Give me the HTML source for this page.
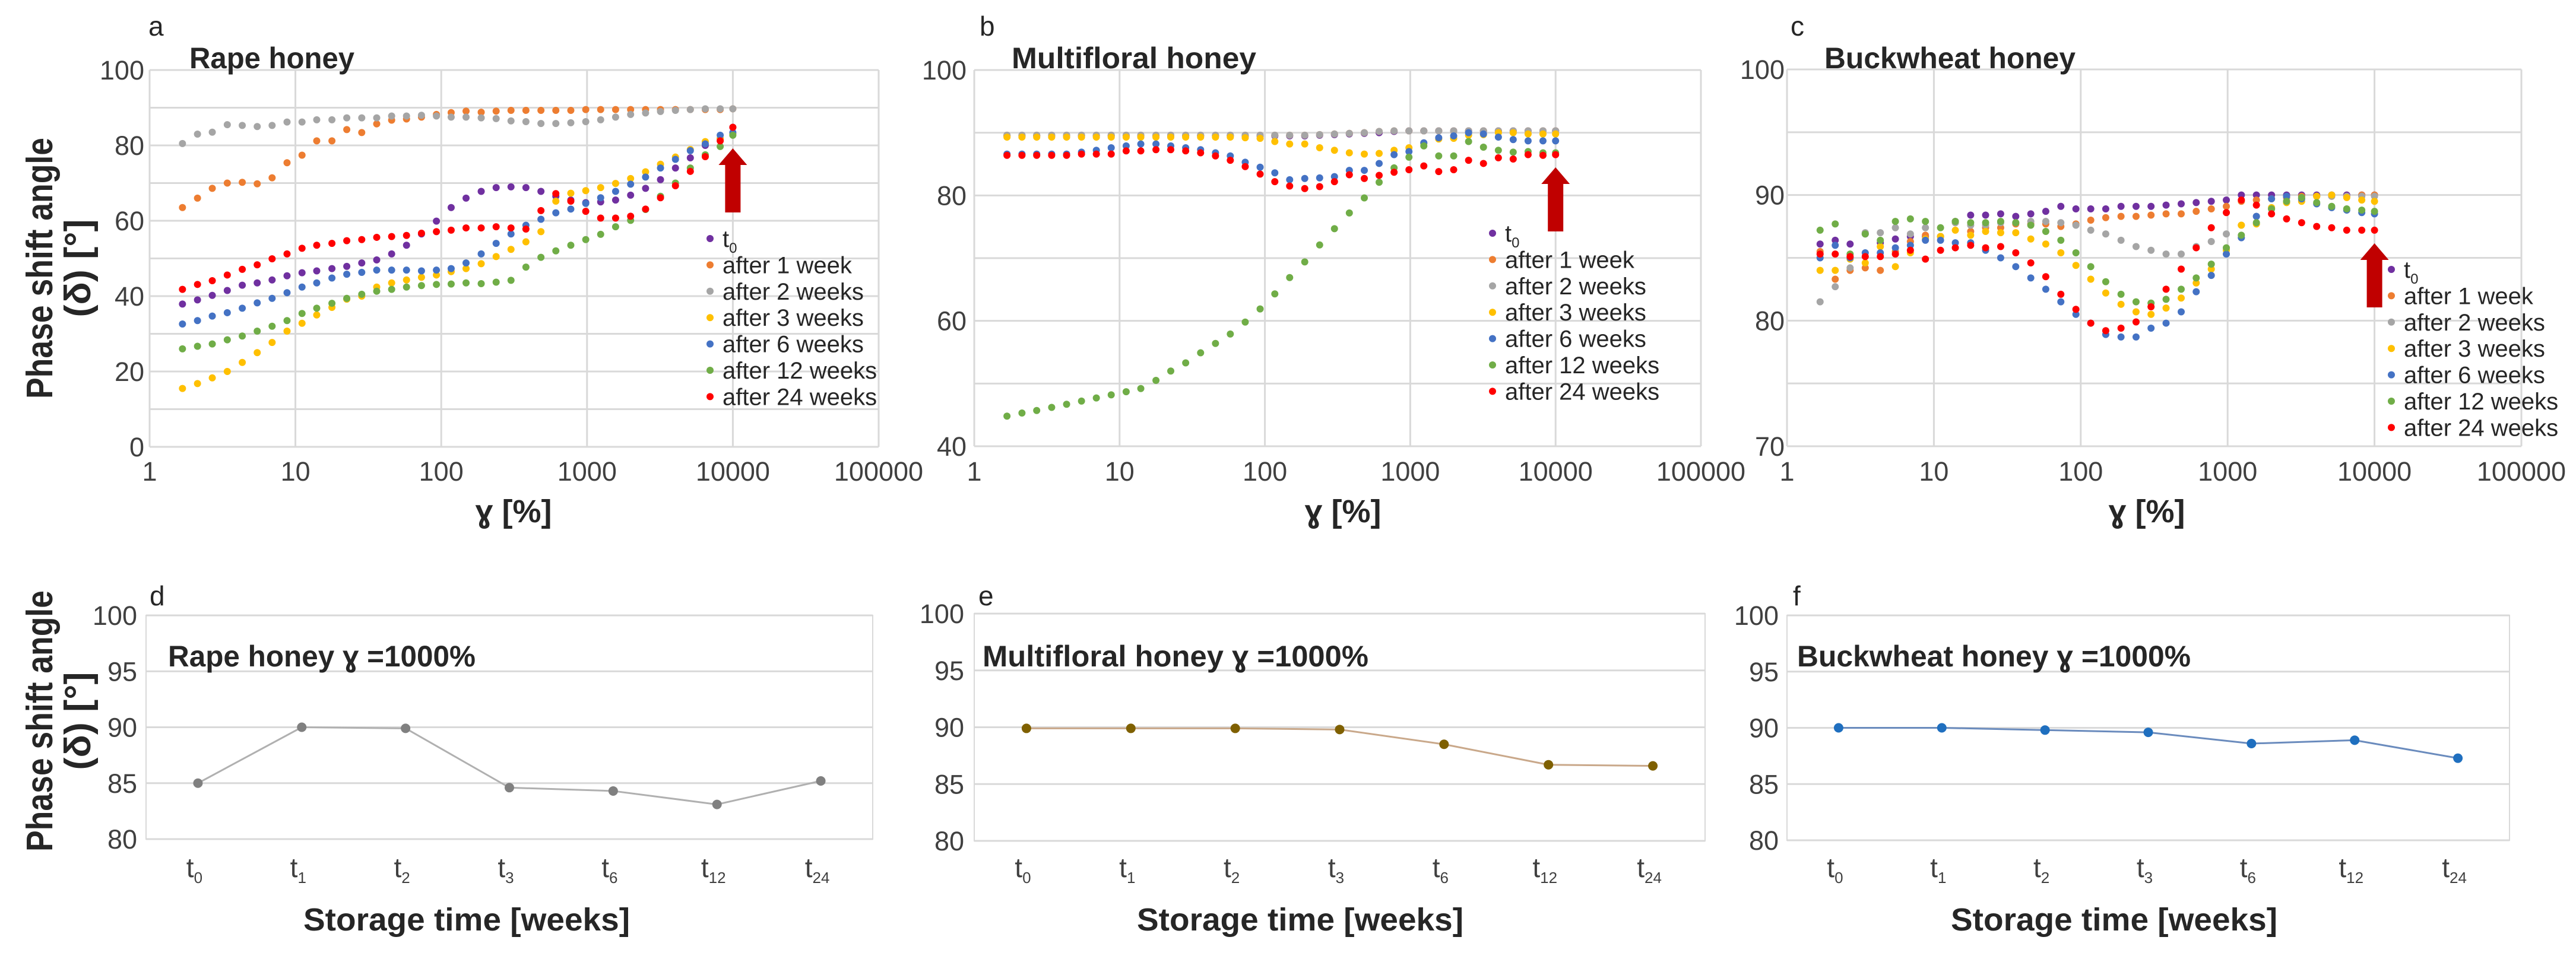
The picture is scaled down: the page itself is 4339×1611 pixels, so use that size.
<!DOCTYPE html>
<html><head><meta charset="utf-8"><title>Phase shift angle of honeys</title>
<style>
html,body{margin:0;padding:0;background:#fff;}
svg{display:block;font-family:"Liberation Sans",sans-serif;}
</style></head>
<body>
<svg id="fig" xmlns="http://www.w3.org/2000/svg" width="4339" height="1611" viewBox="0 0 4339 1611">
<rect x="0" y="0" width="4339" height="1611" fill="#ffffff"/>
</svg>
<script>
// ---------- data ----------
const gammaPts = [1.68,2.13,2.69,3.41,4.32,5.47,6.92,8.76,11.1,14.0,17.8,22.5,28.5,36.1,45.7,57.8,73.2,92.7,117,148,188,238,301,381,483,611,774,980,1240,1570,1990,2520,3190,4040,5110,6470,8190,10000];
const seriesNames = ["t0","after 1 week","after 2 weeks","after 3 weeks","after 6 weeks","after 12 weeks","after 24 weeks"];
const xTickLabels = ["1","10","100","1000","10000","100000"];

// Panel a: Rape honey
const rapeT0  = [37.9,39,40.2,41.5,42.9,43.5,44.3,45.4,46.2,46.7,47.3,47.9,48.8,49.6,51.2,53.5,56.5,59.9,63.5,66,67.8,68.8,69,68.8,67.8,66.5,65.5,64.8,65,65.5,66.8,68.6,70.9,74,76.7,80,81.8,84.8];
const rapeW1  = [63.5,66,68.6,70,70.2,69.8,71.4,75.4,77.4,81.2,81.2,84.2,83.4,85.7,86.7,87,87.5,88.2,88.7,89.1,88.8,89.1,89.3,89.3,89.3,89.3,89.3,89.5,89.5,89.5,89.5,89.5,89.5,89.5,89.5,89.5,89.5,89.7];
const rapeW2  = [80.5,83,83.5,85.5,85.3,85,85.3,86.2,86.2,86.8,86.8,87.3,87.3,87.3,87.8,87.8,88,87.8,87.5,87.5,87.3,87.1,86.5,86.3,85.8,85.8,86,86.3,86.8,87.5,88.2,88.6,89,89.3,89.5,89.7,89.7,89.7];
const rapeW3  = [15.5,16.8,18.3,20,22.4,25,27.7,30.7,32.8,35,37,39.2,40,42.4,43.5,44.3,45,45.6,46.5,47.3,48.6,50.5,52.4,54.4,57.1,65.2,67.3,68,68.8,69.9,71.2,73,75,76.9,78.9,81,81.8,83.1];
const rapeW6  = [32.6,33.5,34.7,35.6,36.8,38.2,39.4,40.9,42.4,43.5,44.8,45.8,46.3,46.9,46.9,46.9,46.7,46.9,47.3,48.8,51.2,54,56.5,58.8,60.4,62.1,63.1,64.6,66.1,67.8,69.7,71.6,74,76.3,78.6,80.4,82.7,83.4];
const rapeW12 = [26,26.7,27.3,28.4,29.4,30.7,32,33.5,35.4,36.8,38.1,39.4,40.5,41.3,41.8,42.4,42.8,43.1,43.2,43.5,43.3,43.7,44.2,47.7,50.3,52,53.5,55,56.4,58.4,60.1,63,66.5,70,74,77.5,79.7,82.7];
const rapeW24 = [41.8,43.1,44.1,45.6,47.1,48.3,49.9,51.2,52.7,53.5,54,54.7,55,55.6,55.8,56.1,56.7,57.1,57.5,58.1,58.1,58.4,58.1,57.8,62.7,67.2,65.2,62.5,60.7,60.7,61.2,63.1,66.1,69.3,73.1,77,81.2,84.8];

// Panel b: Multifloral honey
const multiT0  = [89.5,89.5,89.5,89.5,89.5,89.5,89.5,89.5,89.5,89.5,89.5,89.5,89.5,89.5,89.5,89.5,89.5,89.5,89.5,89.5,89.5,89.6,89.7,89.8,89.9,90,90.2,90.3,90.3,90.3,90.3,90.3,90.3,90.3,90.3,90.3,90.3,90.3];
const multiW1  = [89.6,89.6,89.6,89.6,89.6,89.6,89.6,89.6,89.6,89.6,89.6,89.6,89.6,89.6,89.6,89.6,89.6,89.6,89.6,89.6,89.6,89.7,89.8,89.9,90,90.2,90.3,90.3,90.3,90.3,90.3,90.3,90.3,90.3,90.3,90.3,90.3,90.3];
const multiW2  = [89.6,89.6,89.6,89.6,89.6,89.6,89.6,89.6,89.6,89.6,89.6,89.6,89.6,89.6,89.6,89.6,89.6,89.6,89.6,89.6,89.6,89.7,89.8,89.9,90,90.2,90.3,90.3,90.3,90.3,90.3,90.3,90.3,90.3,90.3,90.3,90.3,90.3];
const multiW3  = [89.3,89.3,89.3,89.3,89.3,89.3,89.3,89.3,89.3,89.3,89.3,89.3,89.3,89.3,89.3,89.3,89.2,89.1,88.6,88.2,88.2,87.6,87.2,86.8,86.6,86.7,87.2,87.6,88.3,89,89.1,89.6,89.7,90,90,89.8,89.8,89.8];
const multiW6  = [86.6,86.6,86.6,86.6,86.6,86.9,87.2,87.6,87.9,88.2,88.2,87.9,87.6,87.3,86.8,86.3,85.3,84.5,83.6,82.5,82.7,82.8,83,84,84,85.1,86.5,87,88.4,89.2,89.5,90,89.8,89.3,88.9,88.7,88.7,88.7];
const multiW12 = [44.8,45.3,45.7,46.2,46.7,47.2,47.7,48.2,48.7,49.2,50.5,52,53.3,54.9,56.4,57.9,59.8,61.9,64.3,66.9,69.4,72.1,74.7,77.2,79.6,82.1,84.4,86.1,87.9,86.3,86.3,88.6,87.7,87.2,86.9,87,86.8,86.8];
const multiW24 = [86.4,86.4,86.4,86.4,86.4,86.6,86.6,86.6,87.1,87.1,87.3,87.3,87.1,86.8,86.3,85.6,84.6,83.4,82.2,81.5,81.1,81.4,82.2,83.3,82.7,83.2,83.7,84.1,84.7,83.8,84.1,85.6,85.1,86,85.8,86.5,86.4,86.5];

// Panel c: Buckwheat honey
const buckT0  = [86.1,86.4,86.1,86.9,86.2,86.5,86.7,86.7,86.7,87.9,88.4,88.4,88.5,88.3,88.5,88.7,89.1,88.9,88.9,88.9,89.1,89.1,89.1,89.2,89.3,89.4,89.5,89.6,90,90,90,90,90,90,90,90,90,90];
const buckW1  = [85.5,83.3,84,84.2,84,85.5,86.3,86.8,86.7,87.8,87.1,87.4,87.4,87.7,87.7,87.7,87.5,87.7,88,88.2,88.3,88.3,88.4,88.5,88.5,88.7,88.9,89.1,89.5,89.6,89.7,89.8,89.9,89.9,89.9,89.9,90,90];
const buckW2  = [81.5,82.7,84.2,87,87,87.4,86.9,87.4,86.7,87.8,87.6,87.6,87.8,87.8,87.9,87.9,87.8,87.6,87.2,86.9,86.4,85.9,85.6,85.3,85.3,85.9,86.3,86.9,87.6,88.3,88.9,89.5,89.7,89.9,89.9,89.9,89.9,89.9];
const buckW3  = [84,84,84.9,84.6,85.9,84.3,85.4,86.5,86.7,87.2,86.8,87.1,87,87,86.5,86.1,85.4,84.4,83.3,82.2,81.3,80.7,80.5,81,81.8,83,84.1,85.6,87.6,87.7,89,89.4,89.5,89.9,90,89.8,89.6,89.5];
const buckW6  = [85,86,85,85.4,85.4,85.8,86,86.4,86.4,86.2,86.2,85.6,85,84.3,83.4,82.5,81.5,80.5,79.8,78.9,78.7,78.7,79.4,79.8,80.7,82.3,83.6,85.3,86.6,88.3,89.7,89.9,89.7,89.3,89,88.8,88.6,88.5];
const buckW12 = [87.2,87.7,85.3,86.9,86.4,87.9,88.1,87.9,87.4,87.9,87.8,87.8,87.9,87.8,87.6,87.1,86.4,85.4,84.3,83.1,82.1,81.5,81.4,81.7,82.5,83.4,84.5,85.8,86.8,87.8,88.9,89.5,89.8,89.4,89.1,88.9,88.8,88.7];
const buckW24 = [85.3,85.3,85.1,85.1,85.1,85.3,85.6,84.9,85.6,85.8,86,85.8,85.9,85.4,84.6,83.5,82.1,80.9,79.8,79.2,79.4,79.9,81.1,82.5,84.1,85.8,87.4,88.6,89.6,89.2,88.5,88.1,87.8,87.5,87.4,87.2,87.2,87.2];

// Bottom panels (γ = 1000%)
const storageCats = ["0","1","2","3","6","12","24"];
const rapeAt1000  = [85,90,89.9,84.6,84.3,83.1,85.2];
const multiAt1000 = [89.9,89.9,89.9,89.8,88.5,86.7,86.6];
const buckAt1000  = [90,90,89.8,89.6,88.6,88.9,87.3];
const bottomTicks = [80,85,90,95,100];

// ---------- drawing ----------
const NS = "http://www.w3.org/2000/svg";
const svg = document.getElementById("fig");
const colors = ["#7030a0","#ed7d31","#a5a5a5","#ffc000","#4472c4","#70ad47","#ff0000"];
function mk(tag, attrs, parent){
  const el = document.createElementNS(NS, tag);
  for (const k in attrs) el.setAttribute(k, attrs[k]);
  (parent || svg).appendChild(el);
  return el;
}
function txt(str, attrs, parent){
  const el = mk("text", attrs, parent);
  el.textContent = str;
  return el;
}

function yAxisTitle(cx, cy, parent){
  const g = mk("g", {}, parent);
  
  
  const t1 = txt("Phase shift angle", {x:0, y:0, transform:`translate(${cx},${cy}) rotate(-90)`, "text-anchor":"middle", "font-size":62, "font-weight":"bold", fill:"#262626", textLength:440, lengthAdjust:"spacingAndGlyphs"}, g);
  
  
  const t2 = txt("(δ)  [°]", {x:0, y:0, transform:`translate(${cx+64},${cy}) rotate(-90)`, "text-anchor":"middle", "font-size":62, "font-weight":"bold", fill:"#262626", textLength:165, lengthAdjust:"spacingAndGlyphs"}, g);
  
  
}

function scatterPanel(p){
  const g = mk("g", {});
  
  
  const dec = (p.x1 - p.x0) / 5;
  const xs = v => p.x0 + Math.log10(v) * dec;
  const ys = v => p.yBot - (v - p.ymin) / (p.ymax - p.ymin) * (p.yBot - p.yTop);
  // horizontal grid
  for (let v = p.ymin; v <= p.ymax + 0.001; v += p.gstep){
    const l = mk("line", {x1:p.x0, x2:p.x1, y1:ys(v), y2:ys(v), stroke:"#d9d9d9", "stroke-width":3}, g);
    
    
  }
  for (let v = p.ymin; v <= p.ymax + 0.001; v += p.lstep){
    const t = txt(String(v), {x:p.yLabX, y:ys(v)+16, "text-anchor":"end", "font-size":45, fill:"#404040"}, g);
    
    
  }
  // vertical grid + labels
  xTickLabels.forEach((lab, i) => {
    const x = xs(Math.pow(10, i));
    const l = mk("line", {x1:x, x2:x, y1:p.yTop, y2:p.yBot, stroke:"#d9d9d9", "stroke-width":3}, g);
    
    
    const t = txt(lab, {x:x, y:810, "text-anchor":"middle", "font-size":45, fill:"#404040"}, g);
    
    
  });
  // panel letter and title
  const let_ = txt(p.letter, {x:p.letterX, y:60, "font-size":46, fill:"#262626"}, g);
  
  
  const tt = txt(p.title, {x:p.titleX, y:115, "font-size":50, "font-weight":"bold", fill:"#262626", textLength:p.titleW, lengthAdjust:"spacingAndGlyphs"}, g);
  
  
  const xt = txt("ɣ [%]", {x:p.xTitleX, y:880, "text-anchor":"middle", "font-size":54, "font-weight":"bold", fill:"#262626"}, g);
  
  
  // series
  p.series.forEach((arr, si) => {
    const sg = mk("g", {fill:colors[si]}, g);
    
    
    arr.forEach((v, i) => {
      const c = mk("circle", {cx:xs(gammaPts[i]), cy:ys(v), r:6}, sg);
      
      
    });
  });
  // arrow
  const ax = xs(10000);
  const ar = mk("polygon", {points:`${ax},${p.arrowTip} ${ax+24},${p.arrowTip+28} ${ax+13},${p.arrowTip+28} ${ax+13},${p.arrowTip+108} ${ax-13},${p.arrowTip+108} ${ax-13},${p.arrowTip+28} ${ax-24},${p.arrowTip+28}`, fill:"#c00000"}, g);
  
  
  // legend
  const lg = mk("g", {}, g);
  
  
  seriesNames.forEach((nm, i) => {
    const y = p.legY + i * 44.4;
    const e = mk("g", {}, lg);
    
    
    const c = mk("circle", {cx:p.legX, cy:y, r:6, fill:colors[i]}, e);
    
    
    const t = mk("text", {x:p.legX + 21, y:y + 14, "font-size":40, fill:"#262626"}, e);
    
    
    if (i === 0){
      t.textContent = "t";
      const s = mk("tspan", {"font-size":24, dy:10}, t);
      s.textContent = "0";
    } else {
      t.textContent = nm;
    }
  });
}

scatterPanel({name:"panel-a-rape", letter:"a", letterX:250, title:"Rape honey", titleX:319, titleW:278, xTitleX:865,
  x0:252, x1:1480, yTop:118, yBot:753, ymin:0, ymax:100, gstep:10, lstep:20, yLabX:243,
  series:[rapeT0,rapeW1,rapeW2,rapeW3,rapeW6,rapeW12,rapeW24], arrowTip:250, legX:1196, legY:402});
scatterPanel({name:"panel-b-multifloral", letter:"b", letterX:1650, title:"Multifloral honey", titleX:1704, titleW:412, xTitleX:2262,
  x0:1641, x1:2865, yTop:118, yBot:752, ymin:40, ymax:100, gstep:10, lstep:20, yLabX:1628,
  series:[multiT0,multiW1,multiW2,multiW3,multiW6,multiW12,multiW24], arrowTip:282, legX:2514, legY:393});
scatterPanel({name:"panel-c-buckwheat", letter:"c", letterX:3016, title:"Buckwheat honey", titleX:3073, titleW:423, xTitleX:3616,
  x0:3010, x1:4247, yTop:117, yBot:752, ymin:70, ymax:100, gstep:5, lstep:10, yLabX:3006,
  series:[buckT0,buckW1,buckW2,buckW3,buckW6,buckW12,buckW24], arrowTip:410, legX:4028, legY:454});

yAxisTitle(88, 452);
yAxisTitle(88, 1215);

function linePanel(p){
  const g = mk("g", {});
  
  
  const band = (p.x1 - p.x0) / storageCats.length;
  const xs = i => p.x0 + band * (i + 0.5);
  const ys = v => p.yBot - (v - 80) / 20 * (p.yBot - p.yTop);
  const fr = mk("rect", {x:p.x0, y:p.yTop, width:p.x1 - p.x0, height:p.yBot - p.yTop, fill:"none", stroke:"#d9d9d9", "stroke-width":2}, g);
  
  
  bottomTicks.forEach(v => {
    const l = mk("line", {x1:p.x0, x2:p.x1, y1:ys(v), y2:ys(v), stroke:"#d9d9d9", "stroke-width":3}, g);
    
    
    const t = txt(String(v), {x:p.yLabX, y:ys(v)+16, "text-anchor":"end", "font-size":45, fill:"#404040"}, g);
    
    
  });
  storageCats.forEach((c, i) => {
    const t = mk("text", {x:xs(i) - 6, y:1478, "font-size":46, fill:"#404040", "text-anchor":"middle"}, g);
    
    
    t.textContent = "t";
    const s = mk("tspan", {"font-size":26, dy:10}, t);
    s.textContent = c;
  });
  const let_ = txt(p.letter, {x:p.letterX, y:1020, "font-size":46, fill:"#262626"}, g);
  
  
  const tt = txt(p.title, {x:p.titleX, y:1123, "font-size":50, "font-weight":"bold", fill:"#262626", textLength:p.titleW, lengthAdjust:"spacingAndGlyphs"}, g);
  
  
  const xt = txt("Storage time [weeks]", {x:p.xTitleX, y:1568, "text-anchor":"middle", "font-size":54, "font-weight":"bold", fill:"#262626", textLength:550, lengthAdjust:"spacingAndGlyphs"}, g);
  
  
  const pts = p.values.map((v, i) => xs(i) + "," + ys(v)).join(" ");
  const pl = mk("polyline", {points:pts, fill:"none", stroke:p.lineColor, "stroke-width":3}, g);
  
  
  p.values.forEach((v, i) => {
    const c = mk("circle", {cx:xs(i), cy:ys(v), r:8, fill:p.markColor}, g);
    
    
  });
}

linePanel({name:"panel-d-rape-1000", letter:"d", letterX:252, title:"Rape honey ɣ =1000%", titleX:283, titleW:518, xTitleX:786,
  x0:246, x1:1470, yTop:1037, yBot:1414, yLabX:231, values:rapeAt1000, lineColor:"#b0b0b0", markColor:"#808080"});
linePanel({name:"panel-e-multifloral-1000", letter:"e", letterX:1648, title:"Multifloral honey ɣ =1000%", titleX:1655, titleW:650, xTitleX:2190,
  x0:1641, x1:2872, yTop:1034, yBot:1417, yLabX:1624, values:multiAt1000, lineColor:"#c9a88a", markColor:"#7f6000"});
linePanel({name:"panel-f-buckwheat-1000", letter:"f", letterX:3020, title:"Buckwheat honey ɣ =1000%", titleX:3027, titleW:663, xTitleX:3561,
  x0:3010, x1:4227, yTop:1037, yBot:1416, yLabX:2996, values:buckAt1000, lineColor:"#6a8bbd", markColor:"#1f6fbf"});
</script>
</body></html>
